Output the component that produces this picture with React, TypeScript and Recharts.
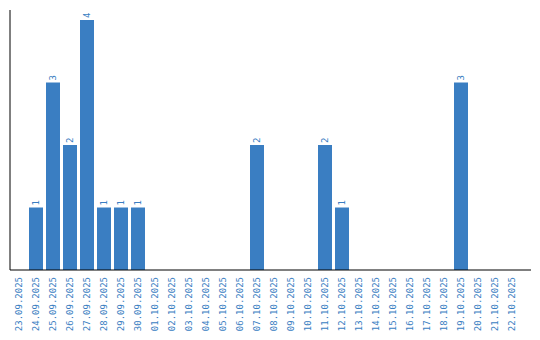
import { BarChart, Bar, XAxis, YAxis, LabelList } from 'recharts';

const dates = [
  '23.09.2025', '24.09.2025', '25.09.2025', '26.09.2025', '27.09.2025', '28.09.2025',
  '29.09.2025', '30.09.2025', '01.10.2025', '02.10.2025', '03.10.2025', '04.10.2025',
  '05.10.2025', '06.10.2025', '07.10.2025', '08.10.2025', '09.10.2025', '10.10.2025',
  '11.10.2025', '12.10.2025', '13.10.2025', '14.10.2025', '15.10.2025', '16.10.2025',
  '17.10.2025', '18.10.2025', '19.10.2025', '20.10.2025', '21.10.2025', '22.10.2025',
];
const counts = [0, 1, 3, 2, 4, 1, 1, 1, 0, 0, 0, 0, 0, 0, 2, 0, 0, 0, 2, 1, 0, 0, 0, 0, 0, 0, 3, 0, 0, 0];

const blue = '#3a7ec2';
const font = '"DejaVu Sans Mono", "Liberation Mono", monospace';

const DateTick = (props: any) => {
  const { x, payload } = props;
  return (
    <g transform={`translate(${x},277)`}>
      <text transform="rotate(-90)" x={0} y={0} dy="0.35em" textAnchor="end"
        fill={blue} fontSize={9} fontFamily={font}>
        {payload.value}
      </text>
    </g>
  );
};

const TopLabel = (props: any) => {
  const { x, y, width, value } = props;
  if (!value) return null;
  const cx = x + width / 2;
  const cy = y - 2;
  return (
    <text transform={`rotate(-90 ${cx} ${cy})`} x={cx} y={cy} dy="0.35em" textAnchor="start"
      fill={blue} fontSize={9} fontFamily={font}>
      {value}
    </text>
  );
};

export default function App() {
  const data = dates.map((d, i) => ({ d, v: counts[i] }));
  return (
    <div style={{ margin: -8, width: 540, height: 340 }}>
      <BarChart width={540} height={340} data={data}
        margin={{ top: 10, right: 9, bottom: 0, left: 9 }} barCategoryGap={0}>
        <XAxis dataKey="d" interval={0} tickLine={false} axisLine={{ stroke: '#000' }}
          height={70} tick={<DateTick />} padding={{ left: 0, right: 11 }} />
        <YAxis width={1} tick={false} tickLine={false} axisLine={{ stroke: '#000' }}
          domain={[0, 4]} padding={{ top: 10, bottom: 0 }} />
        <Bar dataKey="v" fill={blue} barSize={14} isAnimationActive={false}>
          <LabelList dataKey="v" content={<TopLabel />} />
        </Bar>
      </BarChart>
    </div>
  );
}
